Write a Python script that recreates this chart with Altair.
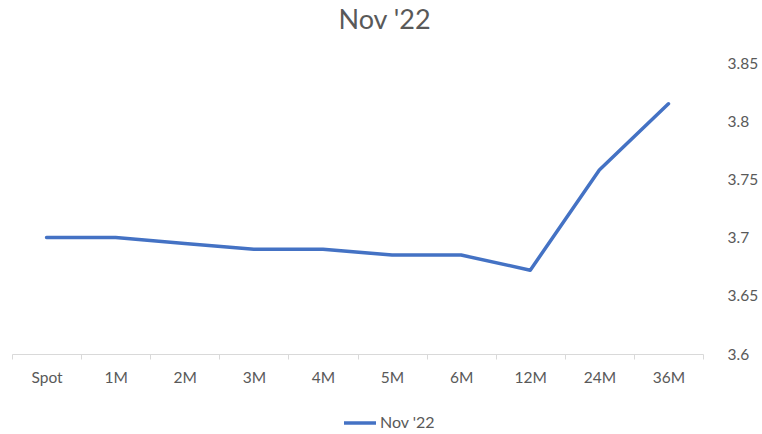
import altair as alt
import pandas as pd

tenors = ["Spot", "1M", "2M", "3M", "4M", "5M", "6M", "12M", "24M", "36M"]
rates = [3.700, 3.700, 3.695, 3.690, 3.690, 3.685, 3.685, 3.672, 3.758, 3.815]
series_name = "Nov '22"

df = pd.DataFrame({"tenor": tenors, "rate": rates, "series": series_name})

FONT = "Lato"
GREY = "#595959"

line = alt.Chart(df).mark_line(strokeWidth=3.5, strokeCap="round", strokeJoin="round").encode(
    x=alt.X(
        "tenor:N",
        sort=tenors,
        scale=alt.Scale(paddingInner=0, paddingOuter=0),
        axis=alt.Axis(
            title=None,
            labelAngle=0,
            tickBand="extent",
            tickSize=5,
            tickColor="#d9d9d9",
            domainColor="#d9d9d9",
            labelColor=GREY,
            labelFont=FONT,
            labelFontSize=15.5,
            labelPadding=11,
            grid=False,
        ),
    ),
    y=alt.Y(
        "rate:Q",
        scale=alt.Scale(domain=[3.6, 3.85], nice=False, zero=False),
        axis=alt.Axis(
            title=None,
            orient="right",
            values=[3.6, 3.65, 3.7, 3.75, 3.8, 3.85],
            labelExpr="format(datum.value, '.3~f')",
            domain=False,
            ticks=False,
            grid=False,
            labelColor=GREY,
            labelFont=FONT,
            labelFontSize=15.5,
            labelPadding=24,
        ),
    ),
    color=alt.Color(
        "series:N",
        scale=alt.Scale(range=["#4472C4"]),
        legend=alt.Legend(
            title=None,
            orient="none",
            legendX=330,
            legendY=342,
            symbolType="stroke",
            symbolSize=1024,
            symbolStrokeWidth=3.5,
            labelColor=GREY,
            labelFont=FONT,
            labelFontSize=16,
            labelOffset=2,
        ),
    ),
)

chart = line.properties(
    width=691,
    height=291,
    padding={"left": 12, "top": 63, "right": 59, "bottom": 80},
    autosize=alt.AutoSizeParams(type="none"),
    title=alt.TitleParams(
        series_name,
        font=FONT,
        fontSize=27,
        fontWeight="normal",
        color=GREY,
        anchor="middle",
        frame="bounds",
        offset=21,
    ),
).configure_view(stroke=None)

chart.save("out.html", embed_options={"renderer": "svg", "actions": False})
